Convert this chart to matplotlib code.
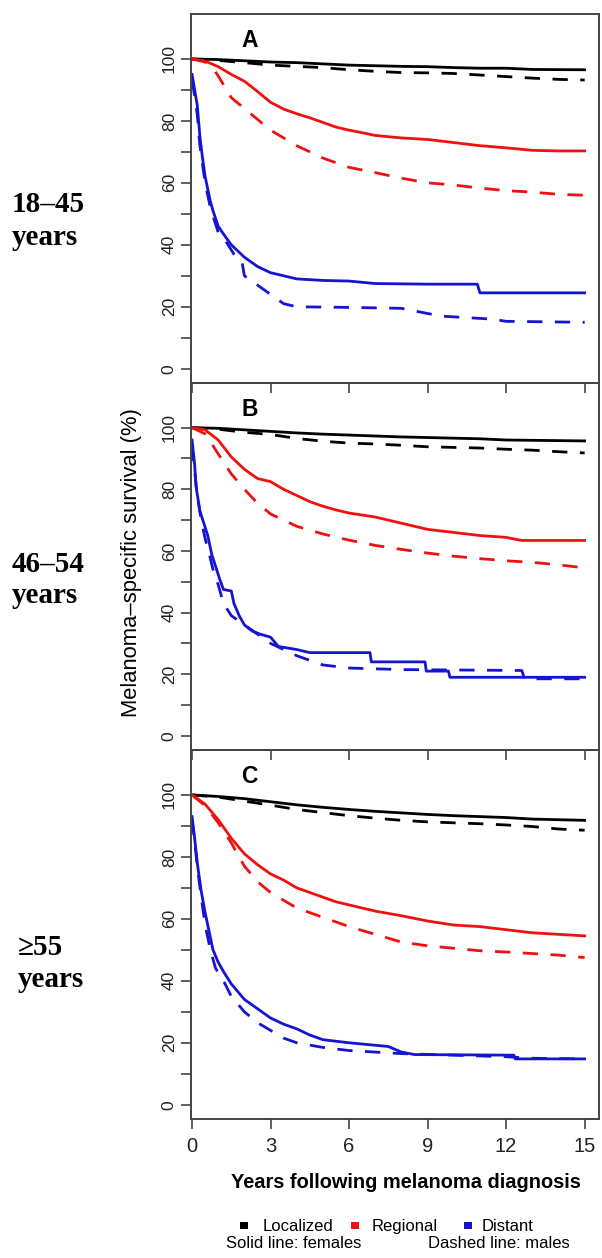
import matplotlib.pyplot as plt
from matplotlib.patches import Rectangle

# ---- data (years, survival %) ----
# panel A: 18-45 years
a_loc_f_t = [0, 1, 2, 3, 4, 5, 6, 7, 8, 9, 10, 11, 12, 13, 15]
a_loc_f_s = [100, 99.8, 99.4, 99, 98.8, 98.4, 98, 97.8, 97.6, 97.5, 97.2, 97, 97, 96.6, 96.5]
a_loc_m_t = [0, 1, 2, 3, 4, 5, 6, 7, 8, 9, 10, 11, 12, 13, 14, 15]
a_loc_m_s = [100, 99.5, 98.8, 98, 97.6, 97.2, 96.5, 96, 95.6, 95.5, 95.3, 94.8, 94.3, 93.8, 93.4, 93.2]
a_reg_f_t = [0, 0.5, 1, 1.5, 2, 2.5, 3, 3.5, 4, 4.5, 5, 5.5, 6, 6.5, 7, 8, 9, 10, 11, 12, 13, 14, 15]
a_reg_f_s = [100, 99.3, 97.5, 95, 92.8, 89.5, 86, 83.8, 82.3, 81, 79.5, 78, 77, 76.2, 75.3, 74.5, 74, 73, 72, 71.3, 70.5, 70.3, 70.3]
a_reg_m_t = [0, 0.5, 0.8, 1, 1.5, 2, 2.5, 3, 3.5, 4, 4.5, 5, 5.5, 6, 7, 8, 9, 10, 11, 12, 13, 14, 15]
a_reg_m_s = [100, 99, 97, 94.5, 87.5, 84, 80.5, 77, 74.5, 72, 70, 68, 66.5, 65, 63.3, 61.5, 60, 59.3, 58.3, 57.5, 57, 56.3, 56]
a_dis_f_t = [0, 0.1, 0.2, 0.3, 0.4, 0.5, 0.6, 0.7, 0.8, 1, 1.2, 1.5, 2, 2.5, 3, 3.5, 4, 5, 6, 7, 9, 10.9, 11, 15]
a_dis_f_s = [95, 90, 85, 75, 68, 62, 58, 54, 51, 46, 43.5, 40, 36, 33, 31, 30, 29, 28.5, 28.3, 27.5, 27.3, 27.3, 24.5, 24.5]
a_dis_m_t = [0, 0.1, 0.2, 0.3, 0.5, 0.7, 1, 1.3, 1.6, 1.9, 2.0, 2.5, 3, 3.5, 4, 6, 8, 9.5, 11.5, 12, 15]
a_dis_m_s = [93, 88, 82, 72, 60, 52, 44, 41, 37, 35, 30, 27, 24, 21, 20, 19.8, 19.5, 17, 16, 15.3, 15]

# panel B: 46-54 years
b_loc_f_t = [0, 1, 2, 3, 4, 5, 6, 7, 8, 9, 10, 11, 12, 14, 15]
b_loc_f_s = [100, 99.8, 99.3, 98.8, 98.3, 97.9, 97.6, 97.3, 97, 96.8, 96.6, 96.4, 96, 95.8, 95.7]
b_loc_m_t = [0, 1, 2, 3, 4, 5, 6, 7, 8, 9, 10, 11, 12, 13, 14, 15]
b_loc_m_s = [100, 99.5, 98.5, 97.8, 96.5, 95.6, 95, 94.7, 94.3, 93.8, 93.6, 93.4, 93, 92.7, 92.2, 91.8]
b_reg_f_t = [0, 0.5, 1, 1.5, 2, 2.5, 3, 3.5, 4, 4.5, 5, 5.5, 6, 7, 8, 9, 10, 11, 12, 12.6, 15]
b_reg_f_s = [100, 99.3, 96, 90.5, 86.5, 83.5, 82.5, 80, 78, 76, 74.5, 73.3, 72.3, 71, 69, 67, 66, 65, 64.4, 63.4, 63.4]
b_reg_m_t = [0, 0.5, 1, 1.5, 2, 2.5, 3, 3.5, 4, 5, 6, 7, 8, 9, 10, 11, 12, 13, 14, 15]
b_reg_m_s = [100, 98, 91.5, 85, 80, 75.5, 72, 70, 68, 65.5, 63.5, 61.8, 60.5, 59.3, 58.3, 57.5, 56.8, 56.3, 55.5, 54.5]
b_dis_f_t = [0, 0.1, 0.15, 0.3, 0.45, 0.6, 0.75, 0.9, 1.05, 1.2, 1.5, 1.6, 1.8, 2, 2.3, 2.6, 3, 3.3, 4, 4.5,
             6.8, 6.85, 8.9, 8.95, 9.8, 9.85, 15]
b_dis_f_s = [96, 88, 81, 73, 69, 65, 59, 55, 51, 47.5, 47, 43, 39, 36, 34, 33, 32, 29, 28, 27,
             27, 24, 24, 21, 21, 19, 19]
b_dis_m_t = [0, 0.1, 0.2, 0.35, 0.5, 0.6, 0.8, 1, 1.2, 1.5, 2, 2.5, 3, 3.5, 4, 5, 6, 8, 12.6, 12.7, 15]
b_dis_m_s = [94, 86, 78, 70, 64, 61, 54, 49, 43, 39, 36, 33, 30, 28, 26, 23, 22, 21.5, 21.2, 18.5, 18.5]

# panel C: >=55 years
c_loc_f_t = [0, 1, 2, 3, 4, 5, 6, 7, 8, 9, 10, 11, 12, 13, 14, 15]
c_loc_f_s = [100, 99.5, 98.8, 97.8, 96.8, 96, 95.3, 94.7, 94.2, 93.7, 93.3, 93, 92.7, 92.2, 92, 91.8]
c_loc_m_t = [0, 1, 2, 3, 4, 5, 6, 7, 8, 9, 10, 11, 12, 13, 14, 15]
c_loc_m_s = [100, 99.3, 98, 96.7, 95.3, 94.3, 93.3, 92.5, 91.8, 91.3, 91, 90.7, 90.3, 89.8, 89, 88.6]
c_reg_f_t = [0, 0.5, 1, 1.5, 2, 2.5, 3, 3.5, 4, 4.5, 5, 5.5, 6, 7, 8, 9, 10, 11, 12, 13, 14, 15]
c_reg_f_s = [100, 97, 92, 86, 81, 77.5, 74.5, 72.5, 70, 68.5, 67, 65.5, 64.5, 62.5, 61, 59.3, 58, 57.5, 56.5, 55.5, 55, 54.5]
c_reg_m_t = [0, 0.5, 1, 1.5, 2, 2.5, 3, 3.5, 4, 4.5, 5, 6, 7, 8, 9, 10, 11, 12, 13, 14, 15]
c_reg_m_s = [100, 96.5, 91, 84.5, 77, 72, 68.5, 66, 63.5, 62, 60.5, 57.5, 55, 52.5, 51.3, 50.5, 49.7, 49.3, 48.8, 48.3, 47.5]
c_dis_f_t = [0, 0.1, 0.2, 0.35, 0.5, 0.6, 0.8, 1, 1.2, 1.5, 2, 2.5, 3, 3.5, 4, 4.5, 5, 6, 7, 7.5, 8, 8.5,
             12.3, 12.35, 15]
c_dis_f_s = [93, 86, 78, 69, 62, 58, 50, 46, 43, 39, 34, 31, 28, 26, 24.5, 22.5, 21, 20, 19.2, 18.8, 17, 16.2,
             16, 14.8, 14.8]
c_dis_m_t = [0, 0.1, 0.2, 0.35, 0.5, 0.7, 0.9, 1.2, 1.5, 2, 2.5, 3, 3.5, 4, 5, 6, 7, 8, 10, 12, 13, 15]
c_dis_m_s = [92, 85, 77, 67, 58, 50, 44, 40, 35, 30, 26.5, 24, 21.5, 20, 18.5, 17.5, 17, 16.5, 16, 15.5, 15, 14.8]

panel_letters = ['A', 'B', 'C']
age_groups = [('18\u201345', 'years'), ('46\u201354', 'years'), ('\u226555', 'years')]
x_ticks = [0, 3, 6, 9, 12, 15]
y_ticks = list(range(0, 101, 10))
y_ticklabels = ['0', '', '20', '', '40', '', '60', '', '80', '', '100']
stage_names = ['Localized', 'Regional', 'Distant']

# ---- styling ----
W, H = 602, 1258
BLACK, RED, BLUE = '#000000', '#f01010', '#1414d2'
FRAME = '#444444'
SANS = ['Liberation Sans', 'DejaVu Sans']
SERIF = ['Liberation Serif', 'DejaVu Serif']


def px(x, y):
    # pixel position -> figure fraction
    return x / W, 1 - y / H


fig = plt.figure(figsize=(W / 100, H / 100), dpi=100)

panel_px = [(14, 383), (383, 750), (750, 1119)]
left_px, right_px = 191, 599.3

curves = [
    [(a_loc_f_t, a_loc_f_s, BLACK, '-'), (a_loc_m_t, a_loc_m_s, BLACK, '--'),
     (a_reg_f_t, a_reg_f_s, RED, '-'), (a_reg_m_t, a_reg_m_s, RED, '--'),
     (a_dis_f_t, a_dis_f_s, BLUE, '-'), (a_dis_m_t, a_dis_m_s, BLUE, '--')],
    [(b_loc_f_t, b_loc_f_s, BLACK, '-'), (b_loc_m_t, b_loc_m_s, BLACK, '--'),
     (b_reg_f_t, b_reg_f_s, RED, '-'), (b_reg_m_t, b_reg_m_s, RED, '--'),
     (b_dis_f_t, b_dis_f_s, BLUE, '-'), (b_dis_m_t, b_dis_m_s, BLUE, '--')],
    [(c_loc_f_t, c_loc_f_s, BLACK, '-'), (c_loc_m_t, c_loc_m_s, BLACK, '--'),
     (c_reg_f_t, c_reg_f_s, RED, '-'), (c_reg_m_t, c_reg_m_s, RED, '--'),
     (c_dis_f_t, c_dis_f_s, BLUE, '-'), (c_dis_m_t, c_dis_m_s, BLUE, '--')],
]

for i, (top, bot) in enumerate(panel_px):
    ax = fig.add_axes([left_px / W, 1 - bot / H, (right_px - left_px) / W, (bot - top) / H])
    ax.set_facecolor('none')
    for t, s, col, ls in curves[i]:
        if ls == '--':
            ax.plot(t, s, color=col, lw=2.0, linestyle=(0, (5.5, 4.5)), solid_capstyle='butt')
        else:
            ax.plot(t, s, color=col, lw=2.0)
    ax.set_xlim(-0.04, 15.56)
    ax.set_ylim(-4.6, 114.5)
    for sp in ax.spines.values():
        sp.set_color(FRAME)
        sp.set_linewidth(1.4)
    ax.set_yticks(y_ticks)
    ax.set_yticklabels(y_ticklabels, rotation=90, va='center', fontsize=12.5, family=SANS, color='#222222')
    ax.set_xticks(x_ticks)
    if i == 2:
        ax.set_xticklabels([str(v) for v in x_ticks], fontsize=14.5, family=SANS, color='#222222')
    else:
        ax.set_xticklabels([])
    ax.tick_params(axis='both', direction='out', length=7.2, width=1.2, color=FRAME)
    ax.tick_params(axis='y', pad=3.0)
    ax.tick_params(axis='x', pad=5.5)
    ax.text(2.2, 106, panel_letters[i], ha='center', va='center', fontsize=16.5,
            fontweight='bold', family=SANS)

# age group labels on the left
age_pos = [((11.7, 212), (11.7, 245)), ((11.7, 572), (11.7, 603)), ((18, 955), (18, 987))]
for (l1, l2), (p1, p2) in zip(age_groups, age_pos):
    fig.text(*px(*p1), l1, fontsize=21, fontweight='bold', family=SERIF, va='baseline', ha='left')
    fig.text(*px(*p2), l2, fontsize=21, fontweight='bold', family=SERIF, va='baseline', ha='left')

# axis titles
fig.text(*px(132, 563), 'Melanoma\u2013specific survival (%)', rotation=90, ha='center', va='center',
         fontsize=15.8, family=SANS)
fig.text(*px(406, 1188), 'Years following melanoma diagnosis', ha='center', va='baseline',
         fontsize=14.4, fontweight='bold', family=SANS)

# legend
sq_x = [240, 351, 464]
txt_x = [263, 372, 482]
for name, col, sx, tx in zip(stage_names, [BLACK, RED, BLUE], sq_x, txt_x):
    x0, y0 = px(sx, 1229)
    fig.patches.append(Rectangle((x0, y0), 7.5 / W, 7.5 / H, transform=fig.transFigure,
                                 facecolor=col, edgecolor='none'))
    fig.text(*px(tx, 1231), name, fontsize=12, family=SANS, va='baseline', ha='left')
fig.text(*px(226, 1248), 'Solid line: females', fontsize=12, family=SANS, va='baseline', ha='left')
fig.text(*px(428, 1248), 'Dashed line: males', fontsize=12, family=SANS, va='baseline', ha='left')

fig.savefig('out.png', dpi=100, facecolor='white')
